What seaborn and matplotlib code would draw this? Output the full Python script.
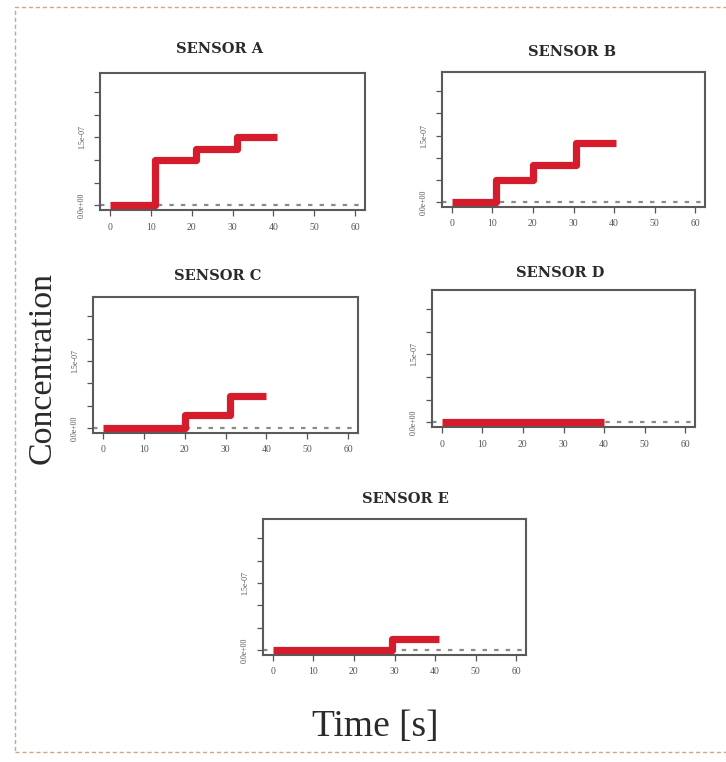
import matplotlib
matplotlib.use('Agg')
import matplotlib.pyplot as plt
import seaborn as sns
import pandas as pd
from matplotlib.patches import Rectangle

sns.set_theme(style='white')
plt.rcParams['font.family'] = ['Liberation Serif', 'DejaVu Serif']

# ---- data ----
sensor_names = ['SENSOR A', 'SENSOR B', 'SENSOR C', 'SENSOR D', 'SENSOR E']
time_a = [0, 11, 21, 31, 41]
conc_a = [0.0, 1.0e-7, 1.25e-7, 1.5e-7, 1.5e-7]
time_b = [0, 11, 20, 30.5, 40.5]
conc_b = [0.0, 0.49e-7, 0.84e-7, 1.33e-7, 1.33e-7]
time_c = [0, 20, 31, 40]
conc_c = [0.0, 0.29e-7, 0.71e-7, 0.71e-7]
time_d = [0, 40]
conc_d = [0.0, 0.0]
time_e = [0, 29.5, 41]
conc_e = [0.0, 0.24e-7, 0.24e-7]

x_ticks = [0, 10, 20, 30, 40, 50, 60]
x_tick_labels = ['0', '10', '20', '30', '40', '50', '60']
y_ticks = [0, 0.5e-7, 1.0e-7, 1.5e-7, 2.0e-7, 2.5e-7]
y_tick_labels = ['0.0e+00', '', '', '1.5e-07', '', '']

series = [(time_a, conc_a), (time_b, conc_b), (time_c, conc_c),
          (time_d, conc_d), (time_e, conc_e)]

# ---- layout (pixels) ----
W, H = 726, 762
fig = plt.figure(figsize=(W / 100, H / 100), dpi=100)
fig.patch.set_facecolor('white')

boxes = [(100, 73, 365, 210), (442, 72, 705, 207), (93, 297, 358, 433),
         (432, 290, 695, 427), (263, 519, 526, 655)]
title_pos = [(220, 49), (572, 52), (218, 276), (560, 273), (405, 499)]

red = '#d41c2c'
for (l, t, r, b), (tx, ty), name, (xs, ys) in zip(boxes, title_pos, sensor_names, series):
    ax = fig.add_axes([l / W, 1 - b / H, (r - l) / W, (b - t) / H])
    ax.set_facecolor('white')
    ax.axhline(0, color='#8a8a8a', lw=1.6, ls=(0, (2, 3.2)), zorder=1)
    df = pd.DataFrame({'time': xs, 'conc': ys})
    sns.lineplot(data=df, x='time', y='conc', ax=ax, estimator=None,
                 drawstyle='steps-post', color=red, lw=5.2, zorder=3,
                 solid_capstyle='butt')
    ax.set_xlim(-2.4, 62.4)
    ax.set_ylim(-0.11e-7, 2.93e-7)
    ax.set_xticks(x_ticks)
    ax.set_xticklabels(x_tick_labels)
    ax.set_yticks(y_ticks)
    ax.set_yticklabels(y_tick_labels, rotation=90, va='center')
    ax.set_xlabel('')
    ax.set_ylabel('')
    ax.tick_params(axis='both', bottom=True, left=True, direction='out',
                   length=4, width=0.9, color='#555555', labelcolor='#555555')
    ax.tick_params(axis='x', labelsize=7, pad=5)
    ax.tick_params(axis='y', labelsize=5.8, pad=6)
    for s in ax.spines.values():
        s.set_color('#5a5a5a')
        s.set_linewidth(1.5)
    fig.text(tx / W, 1 - ty / H, name, ha='center', va='center',
             fontsize=10.5, fontweight='bold', color='#2a2a2a',
             family=['DejaVu Serif'])

fig.text(42 / W, 1 - 368 / H, 'Concentration', rotation=90, ha='center',
         va='center', fontsize=24.5, color='#2a2a2a')
fig.text(375 / W, 1 - 727 / H, 'Time [s]', ha='center', va='center',
         fontsize=27, color='#2a2a2a')

# dashed page frame
frame = Rectangle((15 / W, 10 / H), 1.2, 1 - 17 / H, transform=fig.transFigure,
                  fill=False, ls=(0, (3, 2)), lw=1.0, edgecolor='#c9a983')
fig.patches.append(frame)

fig.savefig('out.png', dpi=100)
